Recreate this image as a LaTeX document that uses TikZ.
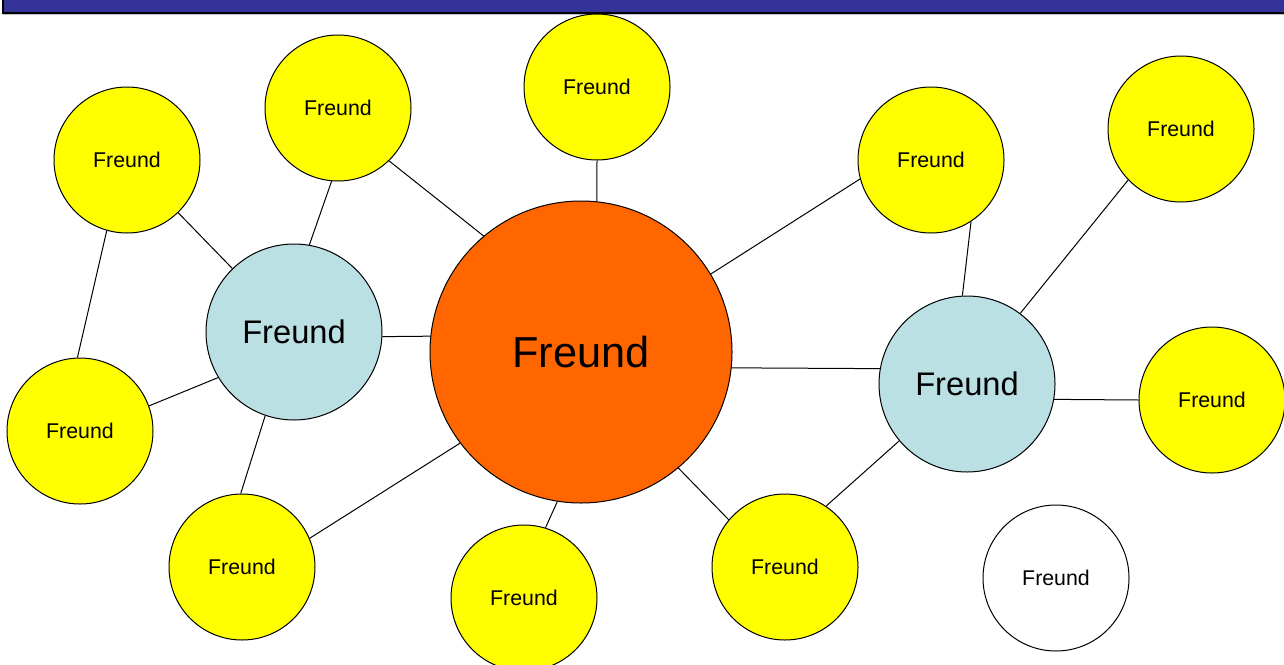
\documentclass[tikz,border=0pt]{standalone}
\usepackage{fontspec}
\setmainfont{Liberation Sans}
\definecolor{barblue}{RGB}{51,51,153}
\definecolor{hubblue}{RGB}{187,224,227}
\definecolor{meorange}{RGB}{255,102,0}
\definecolor{friendyellow}{RGB}{255,255,0}
\begin{document}
\begin{tikzpicture}
    [x=0.75pt,y=-0.75pt,
    friend/.style={shape=circle,draw=black,line width=0.75pt,fill=friendyellow,minimum size=109.5pt,inner sep=0pt,font=\fontsize{16}{19}\selectfont},
    hub/.style={shape=circle,draw=black,line width=0.75pt,fill=hubblue,minimum size=132pt,inner sep=0pt,font=\fontsize{24.5}{29}\selectfont},
    me/.style={shape=circle,draw=black,line width=0.75pt,fill=meorange,minimum size=226.5pt,inner sep=0pt,font=\fontsize{32.5}{39}\selectfont},
    edge/.style={line width=0.75pt}]

    \useasboundingbox (0,0) rectangle (1284,664);
    % title bar
    \fill [gray!50] (3,13) rectangle (1284,15);
    \fill [barblue] (3,0) rectangle (1284,13);
    \draw [line width=0.8pt] (3,0) -- (3,13) -- (1284,13);

    \node (M) [me] at (581,352) {Freund};
    \node (LB) [hub] at (294,332) {Freund};
    \node (RB) [hub] at (967,384) {Freund};

    \node (A) [friend] at (127,160) {Freund};
    \node (B) [friend] at (338,108) {Freund};
    \node (C) [friend] at (597,87) {Freund};
    \node (D) [friend] at (931,160) {Freund};
    \node (E) [friend] at (1181,129) {Freund};
    \node (F) [friend] at (80,431) {Freund};
    \node (G) [friend] at (1212,400) {Freund};
    \node (H) [friend] at (242,567) {Freund};
    \node (I) [friend] at (524,598) {Freund};
    \node (J) [friend] at (785,567) {Freund};
    \node (W) [friend,fill=white] at (1056,578) {Freund};

    \draw [edge] (A) -- (LB);
    \draw [edge] (A.254) -- (F.92);
    \draw [edge] (B.265) -- (LB.80);
    \draw [edge] (B.314) -- (M.130);
    \draw [edge] (C.south) -- (M.84);
    \draw [edge] (D.195) -- (M.31);
    \draw [edge] (D.303) -- (RB.93);
    \draw [edge] (E.224) -- (RB.53);
    \draw [edge] (LB.-3) -- (M.174);
    \draw [edge] (F.20) -- (LB.211);
    \draw [edge] (LB.251) -- (H.91);
    \draw [edge] (H.23) -- (M.217);
    \draw [edge] (M.261) -- (I.73);
    \draw [edge] (M.310) -- (J.140);
    \draw [edge] (M.354) -- (RB.170);
    \draw [edge] (RB.350) -- (G.west);
    \draw [edge] (RB.220) -- (J.56);

  \end{tikzpicture}
\end{document}
